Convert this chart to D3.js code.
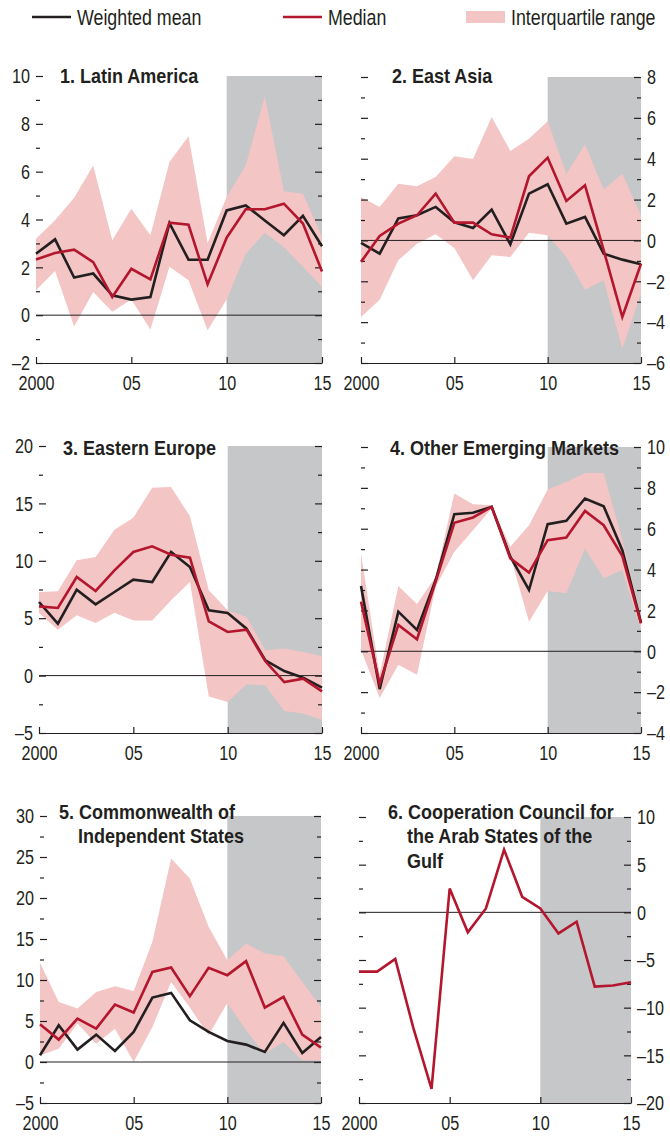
<!DOCTYPE html>
<html>
<head>
<meta charset="utf-8">
<script src="https://cdn.jsdelivr.net/npm/d3@7"></script>
<style>
  body { margin: 0; background: #fff; }
</style>
</head>
<body>
<svg id="chart" width="670" height="1136" viewBox="0 0 670 1136"></svg>
<script>
// years on the x axis
const years = [2000, 2001, 2002, 2003, 2004, 2005, 2006, 2007, 2008, 2009, 2010, 2011, 2012, 2013, 2014, 2015];
const xTickValues = [2000, 2005, 2010, 2015];
const xTickLabels = ["2000", "05", "10", "15"];
const shadeFrom = 2010;

// 1. Latin America
const latamMean   = [2.57, 3.17, 1.57, 1.74, 0.83, 0.65, 0.76, 3.85, 2.32, 2.32, 4.38, 4.59, 3.96, 3.34, 4.15, 2.88];
const latamMedian = [2.33, 2.60, 2.74, 2.22, 0.76, 1.94, 1.50, 3.87, 3.78, 1.29, 3.24, 4.43, 4.43, 4.66, 3.83, 1.83];
const latamQ1     = [1.04, 1.85, -0.47, 0.97, 0.14, 0.65, -0.60, 2.02, 1.46, -0.63, 0.65, 2.57, 3.45, 2.85, 2.02, 1.18];
const latamQ3     = [3.20, 3.97, 4.91, 6.26, 3.13, 4.45, 3.34, 6.40, 7.48, 3.02, 4.94, 6.26, 9.15, 5.18, 5.08, 3.27];

// 2. East Asia
const asiaMean   = [-0.12, -0.65, 1.08, 1.23, 1.64, 0.89, 0.61, 1.51, -0.19, 2.29, 2.75, 0.82, 1.15, -0.65, -0.94, -1.17];
const asiaMedian = [-1.05, 0.22, 0.82, 1.23, 2.29, 0.87, 0.87, 0.30, 0.14, 3.14, 4.05, 1.93, 2.70, -0.48, -3.75, -1.14];
const asiaQ1     = [-3.75, -2.90, -0.97, -0.16, 0.30, -0.37, -1.95, -0.73, -0.81, 0.38, 0.25, -0.81, -2.41, -1.95, -5.30, -2.60];
const asiaQ3     = [2.13, 1.64, 2.78, 2.65, 3.11, 4.12, 3.99, 6.04, 4.38, 4.98, 5.83, 3.27, 4.70, 2.49, 3.27, 1.23];

// 3. Eastern Europe
const eeMean   = [6.41, 4.52, 7.49, 6.21, 7.28, 8.36, 8.15, 10.77, 9.46, 5.69, 5.45, 4.09, 1.33, 0.40, -0.18, -1.05];
const eeMedian = [6.03, 5.89, 8.59, 7.37, 9.17, 10.77, 11.26, 10.53, 10.27, 4.73, 3.80, 4.00, 1.25, -0.56, -0.27, -1.37];
const eeQ1     = [5.45, 4.00, 5.25, 4.58, 5.48, 4.81, 4.81, 6.56, 8.15, -1.81, -2.30, -0.76, -0.87, -3.08, -3.31, -3.84];
const eeQ3     = [7.28, 7.34, 10.04, 10.33, 12.71, 13.76, 16.37, 16.43, 13.88, 7.43, 5.69, 5.11, 2.21, 2.35, 2.06, 1.68];

// 4. Other Emerging Markets
const oemMean   = [3.20, -1.85, 1.94, 1.05, 3.49, 6.71, 6.78, 7.07, 4.63, 3.00, 6.22, 6.39, 7.48, 7.10, 4.95, 1.40];
const oemMedian = [2.43, -1.59, 1.29, 0.59, 3.41, 6.29, 6.55, 7.07, 4.55, 3.85, 5.44, 5.57, 6.87, 6.17, 4.66, 1.37];
const oemQ1     = [0.07, -2.29, -0.66, -1.15, 3.16, 4.87, 5.93, 6.99, 4.66, 1.45, 2.95, 2.84, 5.03, 3.57, 3.98, 1.05];
const oemQ3     = [4.79, -1.15, 3.20, 2.32, 3.65, 7.72, 7.20, 7.15, 5.12, 6.17, 7.92, 8.29, 8.73, 8.73, 5.44, 1.70];

// 5. Commonwealth of Independent States
const cisMean   = [0.82, 4.48, 1.51, 3.34, 1.35, 3.67, 7.86, 8.43, 5.09, 3.67, 2.57, 2.12, 1.23, 4.77, 1.10, 3.06];
const cisMedian = [4.60, 2.73, 5.30, 4.07, 7.00, 6.03, 10.99, 11.52, 8.02, 11.48, 10.59, 12.30, 6.64, 7.94, 3.34, 1.75];
const cisQ1     = [0.82, 1.63, 4.68, 2.24, 4.07, 0.00, 4.27, 9.77, 6.64, 3.26, 7.21, 3.87, 1.02, 2.45, 0.20, 0.20];
const cisQ3     = [12.09, 7.33, 6.52, 8.55, 9.24, 8.67, 14.66, 24.83, 22.39, 16.49, 12.42, 14.45, 13.23, 12.91, 9.77, 6.72];

// 6. Cooperation Council for the Arab States of the Gulf
const gccMedian = [-6.22, -6.22, -4.89, -12.15, -18.53, 2.50, -2.10, 0.41, 6.58, 1.63, 0.41, -2.21, -0.99, -7.79, -7.68, -7.34];

const colors = { mean: "#231f20", median: "#b3162d", band: "#f4c5c5", shade: "#c6c7c9", text: "#231f20" };
const font = "'Liberation Sans', Arial, sans-serif";

// squeeze text horizontally so it reads like a condensed face
function narrow(sel, s) {
  sel.each(function() {
    const t = d3.select(this);
    const x = +t.attr("x") || 0;
    t.attr("x", x / s).attr("transform", `scale(${s},1)`);
  });
}

const panels = [
  { title: ["1. Latin America"], left: 36, right: 322, top: 76, bottom: 363, domain: [-2, 10], step: 2, side: "left",
    mean: latamMean, median: latamMedian, lo: latamQ1, hi: latamQ3, tx: 60, ty: 83 },
  { title: ["2. East Asia"], left: 361, right: 641, top: 77, bottom: 363, domain: [-6, 8], step: 2, side: "right",
    mean: asiaMean, median: asiaMedian, lo: asiaQ1, hi: asiaQ3, tx: 392, ty: 83 },
  { title: ["3. Eastern Europe"], left: 39, right: 322, top: 446, bottom: 733, domain: [-5, 20], step: 5, side: "left",
    mean: eeMean, median: eeMedian, lo: eeQ1, hi: eeQ3, tx: 63, ty: 455 },
  { title: ["4. Other Emerging Markets"], left: 361, right: 641, top: 447, bottom: 733, domain: [-4, 10], step: 2, side: "right",
    mean: oemMean, median: oemMedian, lo: oemQ1, hi: oemQ3, tx: 390, ty: 455 },
  { title: ["5. Commonwealth of", "Independent States"], left: 40, right: 321, top: 816, bottom: 1103, domain: [-5, 30], step: 5, side: "left",
    mean: cisMean, median: cisMedian, lo: cisQ1, hi: cisQ3, tx: 59, ty: 819 },
  { title: ["6. Cooperation Council for", "the Arab States of the", "Gulf"], left: 359, right: 631, top: 817, bottom: 1103, domain: [-20, 10], step: 5, side: "right",
    mean: null, median: gccMedian, lo: null, hi: null, tx: 388, ty: 819 }
];

const svg = d3.select("#chart");

// legend
const legend = svg.append("g").attr("font-family", font).attr("font-size", 22).attr("fill", colors.text);
const legendItems = [
  { label: "Weighted mean", x: 32, kind: "mean" },
  { label: "Median", x: 283, kind: "median" },
  { label: "Interquartile range", x: 466, kind: "band" }
];
legendItems.forEach(d => {
  if (d.kind === "band") {
    legend.append("rect").attr("x", d.x).attr("y", 11).attr("width", 39).attr("height", 12).attr("fill", colors.band);
  } else {
    legend.append("line").attr("x1", d.x).attr("x2", d.x + 39).attr("y1", 17).attr("y2", 17)
      .attr("stroke", colors[d.kind]).attr("stroke-width", 2.6);
  }
  legend.append("text").attr("x", d.x + 45).attr("y", 25).text(d.label);
});
narrow(legend.selectAll("text"), 0.81);

panels.forEach(p => {
  const g = svg.append("g").attr("transform", `translate(${p.left}, ${p.top})`);
  const w = p.right - p.left;
  const h = p.bottom - p.top;

  const x = d3.scaleLinear().domain([years[0], years[years.length - 1]]).range([0, w]);
  const y = d3.scaleLinear().domain(p.domain).range([h, 0]);

  // projection shading
  g.append("rect")
    .attr("x", x(shadeFrom)).attr("y", 0)
    .attr("width", x(years[years.length - 1]) - x(shadeFrom)).attr("height", h)
    .attr("fill", colors.shade);

  const rows = years.map((yr, i) => ({
    year: yr,
    mean: p.mean ? p.mean[i] : null,
    median: p.median[i],
    lo: p.lo ? p.lo[i] : null,
    hi: p.hi ? p.hi[i] : null
  }));

  if (p.lo) {
    g.append("path")
      .datum(rows)
      .attr("fill", colors.band)
      .attr("d", d3.area().x(d => x(d.year)).y0(d => y(d.lo)).y1(d => y(d.hi)));
  }

  // zero line
  g.append("line")
    .attr("x1", 0).attr("x2", w).attr("y1", y(0)).attr("y2", y(0))
    .attr("stroke", "#231f20").attr("stroke-width", 1);

  // y ticks
  const majors = d3.range(p.domain[0], p.domain[1] + 0.001, p.step);
  const minors = d3.range(p.domain[0] + p.step / 2, p.domain[1], p.step);
  const labelAxis = p.side === "left" ? d3.axisLeft(y) : d3.axisRight(y);
  const otherAxis = p.side === "left" ? d3.axisRight(y) : d3.axisLeft(y);
  const labelX = p.side === "left" ? 0 : w;
  const otherX = p.side === "left" ? w : 0;

  g.append("g").attr("transform", `translate(${labelX}, 0)`)
    .call(labelAxis.tickValues(majors).tickSize(-7).tickPadding(6).tickFormat(d => d < 0 ? "\u2013" + Math.abs(d) : d))
    .call(a => a.select(".domain").remove())
    .call(a => a.selectAll("text").attr("font-family", font).attr("font-size", 21).attr("fill", colors.text))
    .call(a => narrow(a.selectAll("text"), 0.77));
  g.append("g").attr("transform", `translate(${otherX}, 0)`)
    .call(otherAxis.tickValues(majors).tickSize(-7).tickFormat(""))
    .call(a => a.select(".domain").remove());
  [labelX, otherX].forEach((ax, k) => {
    const axis = (k === 0) === (p.side === "left") ? d3.axisLeft(y) : d3.axisRight(y);
    g.append("g").attr("transform", `translate(${ax}, 0)`)
      .call(axis.tickValues(minors).tickSize(-4).tickFormat(""))
      .call(a => a.select(".domain").remove());
  });
  g.selectAll(".tick line").attr("stroke", "#231f20").attr("stroke-width", 1.2);

  // x axis
  g.append("g").attr("transform", `translate(0, ${h})`)
    .call(d3.axisBottom(x).tickValues(xTickValues).tickSize(-6).tickSizeOuter(0).tickPadding(12)
      .tickFormat((d, i) => xTickLabels[i]))
    .call(a => a.select(".domain").attr("stroke", "#231f20").attr("stroke-width", 1.2))
    .call(a => a.selectAll(".tick line").attr("stroke", "#231f20").attr("stroke-width", 1.2))
    .call(a => a.selectAll("text").attr("font-family", font).attr("font-size", 21).attr("fill", colors.text))
    .call(a => narrow(a.selectAll("text"), 0.77));

  // lines
  if (p.mean) {
    g.append("path").datum(rows)
      .attr("fill", "none").attr("stroke", colors.mean).attr("stroke-width", 2.6).attr("stroke-linejoin", "miter")
      .attr("d", d3.line().x(d => x(d.year)).y(d => y(d.mean)));
  }
  g.append("path").datum(rows)
    .attr("fill", "none").attr("stroke", colors.median).attr("stroke-width", 2.6).attr("stroke-linejoin", "miter")
    .attr("d", d3.line().x(d => x(d.year)).y(d => y(d.median)));

  // title
  const s = 0.9;
  const t = svg.append("text")
    .attr("font-family", font).attr("font-weight", "bold").attr("font-size", 20).attr("fill", colors.text)
    .attr("transform", `scale(${s},1)`);
  p.title.forEach((line, i) => {
    t.append("tspan").attr("x", (p.tx + (i > 0 ? 19 : 0)) / s).attr("y", p.ty + i * 24.5).text(line);
  });
});
</script>
</body>
</html>
